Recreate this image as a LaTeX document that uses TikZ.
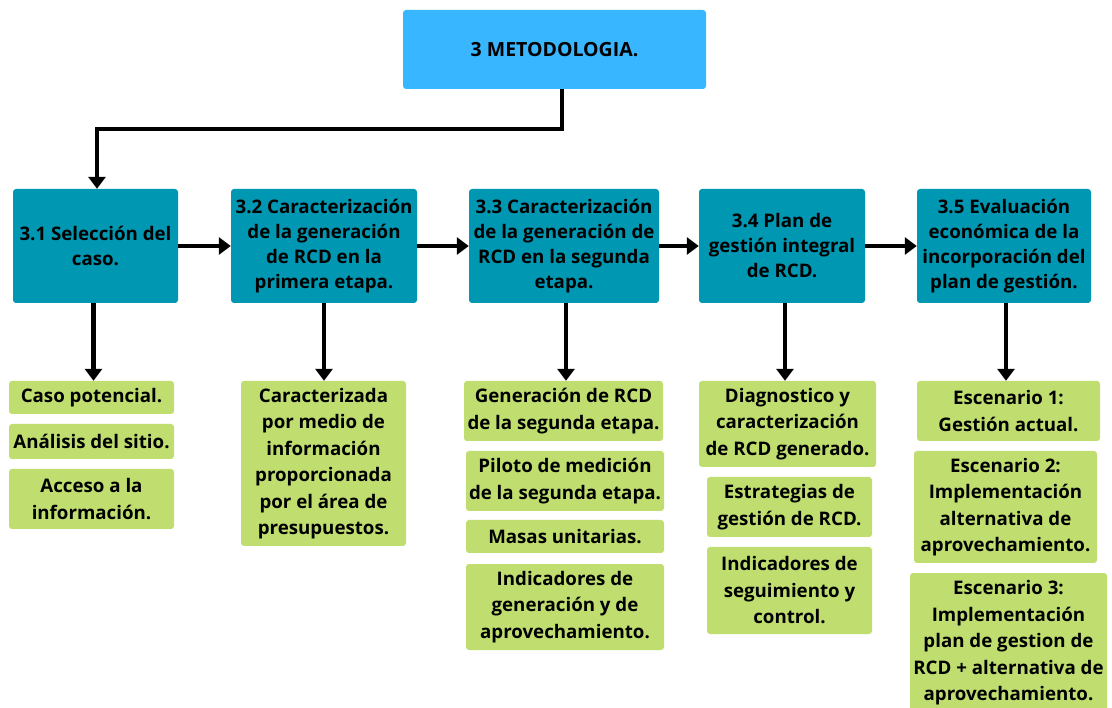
\documentclass[tikz,border=0pt]{standalone}
\usepackage{fontspec}
\setmainfont{Open Sans}
\usetikzlibrary{arrows.meta}
\definecolor{titleblue}{RGB}{56,182,255}
\definecolor{stepteal}{RGB}{0,151,178}
\definecolor{itemgreen}{RGB}{191,222,111}
\begin{document}
\begin{tikzpicture}[x=1pt, y=-1pt,
    titlebox/.style={fill=titleblue, rounded corners=3pt, align=center, inner sep=1pt,
        font=\bfseries\fontsize{19.5}{25}\selectfont},
    stepbox/.style={fill=stepteal, rounded corners=3pt, align=center, inner sep=1pt,
        font=\bfseries\fontsize{18.7}{25}\selectfont},
    itembox/.style={fill=itemgreen, rounded corners=3pt, align=center, inner sep=1pt,
        font=\bfseries\fontsize{18.7}{26.5}\selectfont},
    link/.style={line width=4.5pt, -{Triangle[length=12pt,width=17pt]}}]
    \useasboundingbox (0,0) rectangle (1112,708);

    % Title
    \node[titlebox, minimum width=303, minimum height=79] (top) at (554.5,49.5) {3 METODOLOGIA.};

    % Main steps
    \node[stepbox, minimum width=165, minimum height=114] (n31) at (95.5,246) {3.1 Selección del\\caso.};
    \node[stepbox, minimum width=186, minimum height=114] (n32) at (324,246) {3.2 Caracterización\\de la generación\\de RCD en la\\primera etapa.};
    \node[stepbox, minimum width=190, minimum height=114] (n33) at (564,246) {3.3 Caracterización\\de la generación de\\RCD en la segunda\\etapa.};
    \node[stepbox, minimum width=166, minimum height=114] (n34) at (782,246) {3.4 Plan de\\gestión integral\\de RCD.};
    \node[stepbox, minimum width=174, minimum height=114] (n35) at (1004,246) {3.5 Evaluación\\económica de la\\incorporación del\\plan de gestión.};

    % Items of 3.1
    \node[itembox, minimum width=165, minimum height=33] (c1a) at (91.5,397.5) {Caso potencial.};
    \node[itembox, minimum width=165, minimum height=35] (c1b) at (91.5,441.5) {Análisis del sitio.};
    \node[itembox, minimum width=165, minimum height=60] (c1c) at (91.5,499) {Acceso a la\\información.};

    % Items of 3.2
    \node[itembox, minimum width=165, minimum height=165] (c2a) at (323.5,463.5) {Caracterizada\\por medio de\\información\\proporcionada\\por el área de\\presupuestos.};

    % Items of 3.3
    \node[itembox, minimum width=199, minimum height=60] (c3a) at (563.5,411) {Generación de RCD\\de la segunda etapa.};
    \node[itembox, minimum width=198, minimum height=60] (c3b) at (565,481) {Piloto de medición\\de la segunda etapa.};
    \node[itembox, minimum width=198, minimum height=33] (c3c) at (565,536.5) {Masas unitarias.};
    \node[itembox, minimum width=198, minimum height=86] (c3d) at (565,607) {Indicadores de\\generación y de\\aprovechamiento.};

    % Items of 3.4
    \node[itembox, minimum width=177, minimum height=86] (c4a) at (787.5,424) {Diagnostico y\\caracterización\\de RCD generado.};
    \node[itembox, minimum width=165, minimum height=60] (c4b) at (789.5,507) {Estrategias de\\gestión de RCD.};
    \node[itembox, minimum width=165, minimum height=87] (c4c) at (789.5,590.5) {Indicadores de\\seguimiento y\\control.};

    % Items of 3.5
    \node[itembox, minimum width=183, minimum height=60] (c5a) at (1008.5,411) {Escenario 1:\\Gestión actual.};
    \node[itembox, minimum width=183, minimum height=112] (c5b) at (1005.5,507) {Escenario 2:\\Implementación\\alternativa de\\aprovechamiento.};
    \node[itembox, minimum width=197, minimum height=140] (c5c) at (1008.5,643) {Escenario 3:\\Implementación\\plan de gestion de\\RCD + alternativa de\\aprovechamiento.};

    % Connectors
    \coordinate (bend) at (562,129);
    \draw[link] (top.south -| bend) -- (bend) -| ([xshift=1.5pt]n31.north);
    \draw[link] (n31) -- (n32);
    \draw[link] (n32) -- (n33);
    \draw[link] (n33) -- (n34);
    \draw[link] (n34) -- (n35);
    \draw[link] ([xshift=-2pt]n31.south) -- ([xshift=-2pt]n31.south |- c1a.north);
    \draw[link] (n32.south) -- (n32.south |- c2a.north);
    \draw[link] ([xshift=2pt]n33.south) -- ([xshift=2pt]n33.south |- c3a.north);
    \draw[link] ([xshift=3pt]n34.south) -- ([xshift=3pt]n34.south |- c4a.north);
    \draw[link] ([xshift=2pt]n35.south) -- ([xshift=2pt]n35.south |- c5a.north);
\end{tikzpicture}
\end{document}
